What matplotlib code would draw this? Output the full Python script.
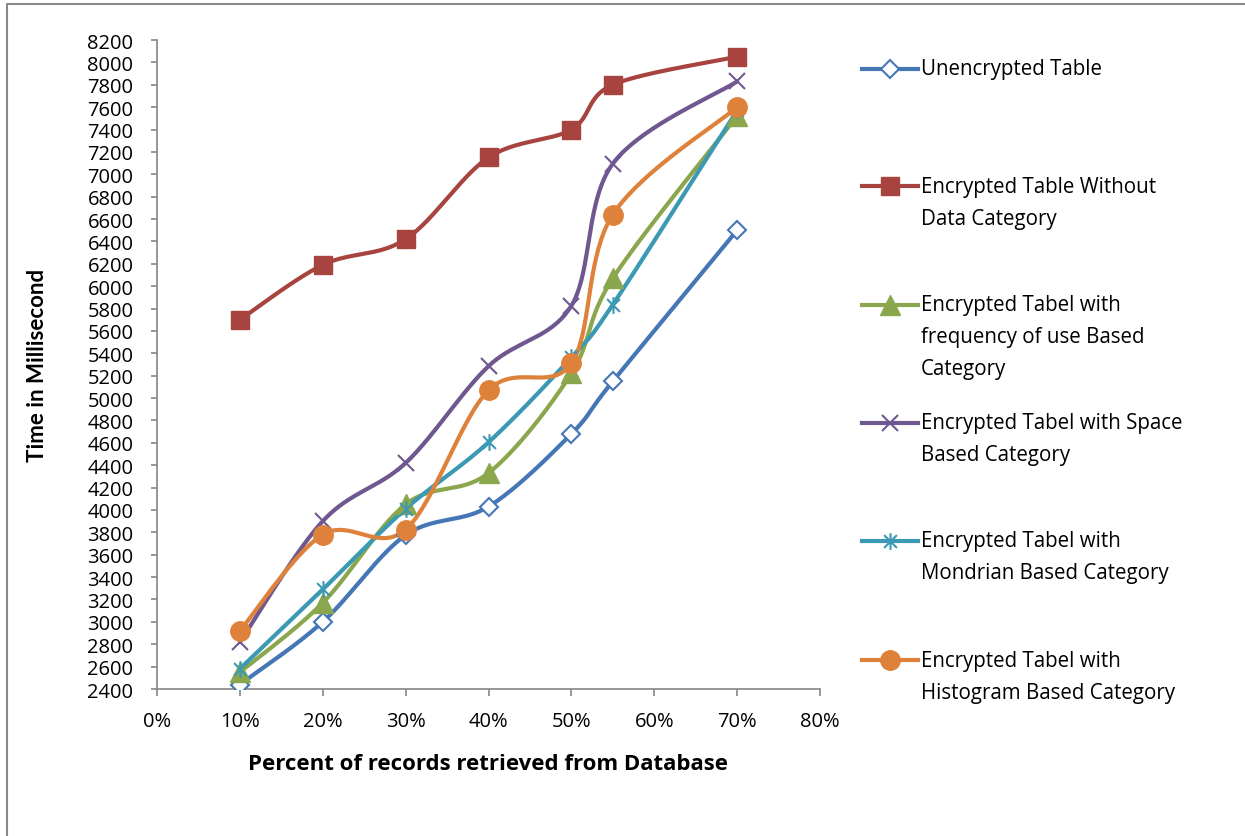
import numpy as np
import matplotlib
matplotlib.use("Agg")
import matplotlib.pyplot as plt
from matplotlib.lines import Line2D
from matplotlib.path import Path
from matplotlib.ticker import FuncFormatter, MultipleLocator

# data
pct = [0.10, 0.20, 0.30, 0.40, 0.50, 0.55, 0.70]

unencrypted = [2440, 3000, 3775, 4030, 4680, 5150, 6500]
enc_no_cat = [5700, 6190, 6420, 7150, 7400, 7800, 8050]
enc_freq = [2550, 3170, 4050, 4330, 5220, 6070, 7520]
enc_space = [2820, 3900, 4420, 5285, 5825, 7095, 7830]
enc_mondrian = [2580, 3290, 4010, 4605, 5365, 5835, 7570]
enc_histogram = [2920, 3780, 3825, 5070, 5310, 6640, 7600]

labels = [
    ["Unencrypted Table"],
    ["Encrypted Table Without", "Data Category"],
    ["Encrypted Tabel with", "frequency of use Based", "Category"],
    ["Encrypted Tabel with Space", "Based Category"],
    ["Encrypted Tabel with", "Mondrian Based Category"],
    ["Encrypted Tabel with", "Histogram Based Category"],
]

W, H = 1245, 837
AX_L, AX_R, AX_T, AX_B = 157, 820, 41, 690
XMIN, XMAX, YMIN, YMAX = 0.0, 0.8, 2400, 8200

# excel style "star" marker: x with a vertical bar
star = Path([(-1, -1), (1, 1), (-1, 1), (1, -1), (0, -1.3), (0, 1.3)],
            [Path.MOVETO, Path.LINETO, Path.MOVETO, Path.LINETO, Path.MOVETO, Path.LINETO])

series = [
    (unencrypted, "#4576b5", dict(marker="D", ms=9, mfc="white", mec="#4576b5", mew=1.5)),
    (enc_no_cat, "#a8443f", dict(marker="s", ms=13, mfc="#a8443f", mec="#a8443f")),
    (enc_freq, "#8ba74e", dict(marker="^", ms=14, mfc="#8ba74e", mec="#8ba74e")),
    (enc_space, "#6f578f", dict(marker="x", ms=12, mec="#6f578f", mew=1.5)),
    (enc_mondrian, "#3b99b3", dict(marker=star, ms=12, mec="#3b99b3", mew=1.5)),
    (enc_histogram, "#de823b", dict(marker="o", ms=14, mfc="#de823b", mec="#de823b")),
]


def smooth(xs, ys, n=40):
    # excel-like bezier smoothing, done in screen space
    sx = (AX_R - AX_L) / (XMAX - XMIN)
    sy = (AX_B - AX_T) / (YMAX - YMIN)
    p = np.column_stack([np.array(xs) * sx, np.array(ys) * sy])
    out = [p[0]]
    t = np.linspace(0, 1, n)[1:, None]
    for i in range(len(p) - 1):
        p0 = p[i - 1] if i > 0 else p[i]
        p3 = p[i + 2] if i + 2 < len(p) else p[i + 1]
        c1 = p[i] + (p[i + 1] - p0) / 6
        c2 = p[i + 1] - (p3 - p[i]) / 6
        seg = ((1 - t) ** 3) * p[i] + 3 * ((1 - t) ** 2) * t * c1 + 3 * (1 - t) * t ** 2 * c2 + t ** 3 * p[i + 1]
        out.extend(seg)
    out = np.array(out)
    return out[:, 0] / sx, out[:, 1] / sy


fig = plt.figure(figsize=(W / 100, H / 100), dpi=100)
ax = fig.add_axes([AX_L / W, (H - AX_B) / H, (AX_R - AX_L) / W, (AX_B - AX_T) / H])

for vals, col, mk in series:
    sx_, sy_ = smooth(pct, vals)
    ax.plot(sx_, sy_, color=col, lw=3, solid_capstyle="round", zorder=2)
    ax.plot(pct, vals, linestyle="none", zorder=3, **mk)

ax.set_xlim(XMIN, XMAX)
ax.set_ylim(YMIN, YMAX)
ax.xaxis.set_major_locator(MultipleLocator(0.1))
ax.yaxis.set_major_locator(MultipleLocator(200))
ax.xaxis.set_major_formatter(FuncFormatter(lambda v, _: f"{v * 100:.0f}%"))

for s in ["top", "right"]:
    ax.spines[s].set_visible(False)
for s in ["left", "bottom"]:
    ax.spines[s].set_color("#868686")
    ax.spines[s].set_linewidth(1.2)
ax.tick_params(axis="both", colors="#868686", labelcolor="black", width=1.2, labelsize=14.5)
ax.tick_params(axis="y", length=4, pad=13)
ax.tick_params(axis="x", length=5, pad=11)
for lab in ax.get_xticklabels() + ax.get_yticklabels():
    lab.set_family("Open Sans")

fig.text(38 / W, 1 - 365 / H, "Time in Millisecond", rotation=90, ha="center", va="center",
         fontsize=16, fontweight="bold", family="Lato")
fig.text(488 / W, 1 - 765 / H, "Percent of records retrieved from Database", ha="center", va="center",
         fontsize=16, fontweight="bold", family="Open Sans")

# legend, drawn by hand to keep excel's spacing
leg_y = [70, 187, 306, 424, 542, 661]
for (vals, col, mk), lines, y in zip(series, labels, leg_y):
    fy = 1 - y / H
    fig.add_artist(Line2D([862 / W, 890 / W, 918 / W], [fy] * 3, color=col, lw=3,
                          markevery=[1], transform=fig.transFigure, **mk))
    for k, line in enumerate(lines):
        fig.text(921 / W, 1 - (y + 32 * k) / H, line, ha="left", va="center",
                 fontsize=14.8, family="Open Sans")

# thin frame visible on top and left
fig.add_artist(Line2D([7 / W, 7 / W, 1.0], [0.0, 1 - 5 / H, 1 - 5 / H], color="#888888", lw=1.5,
                      transform=fig.transFigure))

fig.savefig("out.png", dpi=100)
